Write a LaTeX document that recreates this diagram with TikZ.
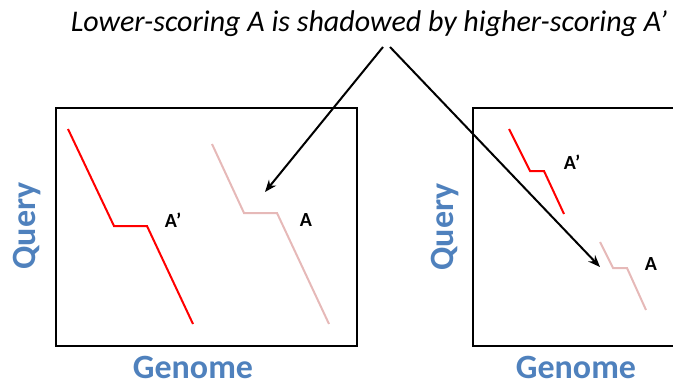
\documentclass[tikz,border=0pt]{standalone}
\usepackage{fontspec}
\setmainfont{Carlito}
\usepackage{tikz}
\usetikzlibrary{arrows.meta,positioning}
\definecolor{axisblue}{RGB}{79,129,189}
\definecolor{fadedred}{RGB}{230,185,184}
\tikzset{
  plotframe/.style={draw=black, line width=1.9pt},
  axislabel/.style={font=\fontsize{25.5}{30}\selectfont\bfseries, text=axisblue, inner sep=0pt},
  hitlabel/.style={font=\fontsize{15}{17}\selectfont\bfseries, inner sep=0pt},
  pointer/.style={-{Stealth[length=9pt,width=7pt]}, line width=1.5pt},
}

\begin{document}
\begin{tikzpicture}[x=0.75pt,y=-0.75pt]
\useasboundingbox (0,0) rectangle (673,385);
\clip (0,0) rectangle (673,385);
% title
\node[font=\fontsize{22.5}{26}\selectfont\itshape, inner sep=0pt] (title) at (369,24) {Lower-scoring A is shadowed by higher-scoring A’};
\coordinate (forkL) at (383,47);
\coordinate (forkR) at (390,47);

% left dot plot
\draw[plotframe] (56,108) rectangle (357,346);
\draw[red, line width=1.5pt] (68,129) -- (114,226) -- (147,226) -- (193,324);
\draw[fadedred, line width=1.5pt] (212,144) -- (244,213) -- (277,213) -- (329,324);
\node[hitlabel] (hitAp) at (173,220) {A’};
\node[hitlabel] (hitA) at (306,220) {A};
\node[axislabel, rotate=90] (queryL) at (27,226) {Query};
\node[axislabel] (genomeL) at (193,367) {Genome};
\coordinate (tipL) at (265,192);

% right dot plot
\draw[plotframe] (473,108) rectangle (700,346);
\draw[red, line width=1.5pt] (509,129) -- (530,171) -- (544,171) -- (564,214);
\draw[fadedred, line width=1.5pt] (600,242) -- (613,268) -- (627,268) -- (646,310);
\node[hitlabel] (hitApR) at (572,162) {A’};
\node[hitlabel] (hitAR) at (651,264) {A};
\node[axislabel, rotate=90] (queryR) at (445,227) {Query};
\node[axislabel] (genomeR) at (576,367) {Genome};
\coordinate (tipR) at (600,267);

% pointers
\draw[pointer] (forkL) -- (tipL);
\draw[pointer] (forkR) -- (tipR);
\end{tikzpicture}
\end{document}
